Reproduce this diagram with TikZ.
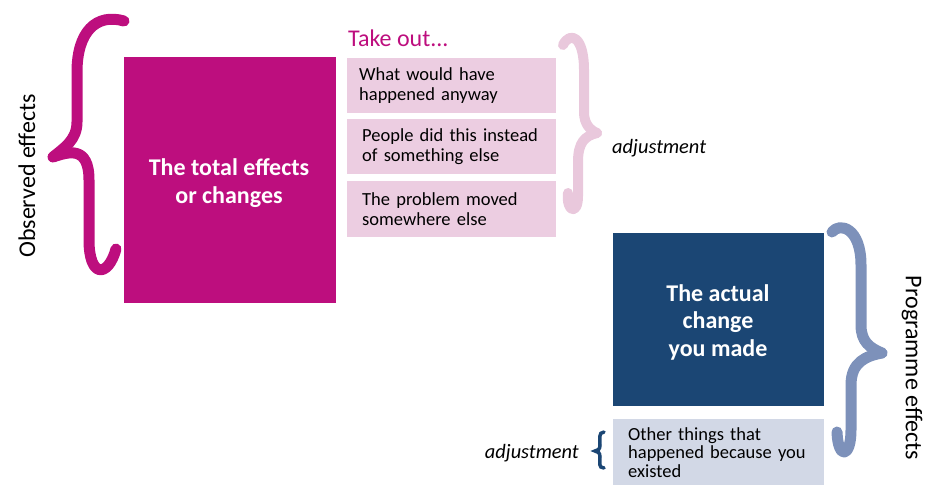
\documentclass[tikz,border=0pt]{standalone}
\usepackage{fontspec}
\setmainfont{Carlito}
\definecolor{mag}{HTML}{BD0E7E}
\definecolor{pinkbox}{HTML}{ECCDE1}
\definecolor{pinkbrace}{HTML}{E9C8DC}
\definecolor{navy}{HTML}{1B4674}
\definecolor{lightblue}{HTML}{D2D8E6}
\definecolor{greyblue}{HTML}{7D91BA}
\begin{document}
\begin{tikzpicture}[x=1pt,y=-1pt,
  bigbox/.style={anchor=north west,inner sep=0pt},
  bigtext/.style={anchor=center,inner sep=0pt,align=center,text=white,
    font=\fontsize{24}{27.5}\selectfont\bfseries},
  smallbox/.style={anchor=north west,inner ysep=0pt,align=left,text=black,
    minimum height=#1,font=\fontsize{18.5}{20}\selectfont},
  bracestroke/.style={line width=#1,line cap=round,line join=round},
  sidelabel/.style={font=\fontsize{24}{26}\selectfont},
  adjlabel/.style={font=\fontsize{20.4}{22}\selectfont\itshape}
]
\useasboundingbox (0,0) rectangle (926,485);
% left brace
\draw[mag,bracestroke=11pt] (124,21) .. controls (96,13) and (77,32) .. (77,72) -- (77,122) .. controls (77,140) and (64,148) .. (53,157);
\draw[mag,bracestroke=11pt] (53,157) .. controls (68,152) and (89,145) .. (89,180) -- (89,240) .. controls (89,278) and (108,278) .. (116,249);
\node[sidelabel,rotate=90] (obs) at (27,176) {Observed effects};
% magenta box
\node[bigbox,fill=mag,minimum width=212pt,minimum height=246pt] (total) at (124,57) {};
\node[bigtext] (totaltxt) at (229,183) {The total effects\\or changes};
% take out
\node[anchor=west,inner sep=0pt,text=mag,font=\fontsize{24}{26}\selectfont] (take) at (348,38) {Take out...};
\node[smallbox=55pt,fill=pinkbox,text width=185pt,inner xsep=12pt] (b1) at (347,58) {\raisebox{-1.5pt}{What would have}\\\raisebox{-1.5pt}{happened anyway}};
\node[smallbox=55pt,fill=pinkbox,text width=179pt,inner xsep=15pt] (b2) at (347,119) {\raisebox{-1.5pt}{People did this instead}\\\raisebox{-1.5pt}{of something else}};
\node[smallbox=56pt,fill=pinkbox,text width=179pt,inner xsep=15pt] (b3) at (347,181) {\raisebox{-1.5pt}{The problem moved}\\\raisebox{-1.5pt}{somewhere else}};
% pink brace
\draw[pinkbrace,bracestroke=10pt] (563,45) .. controls (570,31) and (584,36) .. (584,70) -- (584,112) .. controls (584,124) and (590,130) .. (597,133);
\draw[pinkbrace,bracestroke=10pt] (597,133) .. controls (585,136) and (578,142) .. (578,162) -- (578,196) .. controls (578,216) and (566,212) .. (568,193);
\node[adjlabel,anchor=west,inner sep=0pt] (adj1) at (612,148) {adjustment};
% blue box
\node[bigbox,fill=navy,minimum width=211pt,minimum height=173pt] (actual) at (613,233) {};
\node[bigtext] (actualtxt) at (718,322) {The actual\\change\\you made};
\node[smallbox=66pt,fill=lightblue,text width=181pt,inner xsep=15pt,font=\fontsize{18.5}{18.5}\selectfont] (other) at (613,419) {Other things that\\happened because you\\existed};
% big grey-blue brace
\draw[greyblue,bracestroke=11pt] (832,232) .. controls (840,222) and (861,228) .. (861,265) -- (861,325) .. controls (861,342) and (870,348) .. (882,353);
\draw[greyblue,bracestroke=11pt] (882,353) .. controls (866,356) and (851,362) .. (851,385) -- (851,430) .. controls (851,458) and (838,460) .. (837,432);
\node[sidelabel,rotate=-90] (prog) at (912,368) {Programme effects};
% small brace
\draw[navy,line width=3.5pt,line cap=round] (604,432) .. controls (598,432) and (600,440) .. (600,445) .. controls (600,449) and (598,451) .. (595,451) .. controls (598,451) and (600,453) .. (600,457) .. controls (600,462) and (598,468) .. (604,468);
\node[adjlabel,anchor=east,inner sep=0pt] (adj2) at (579,453) {adjustment};
\end{tikzpicture}
\end{document}
